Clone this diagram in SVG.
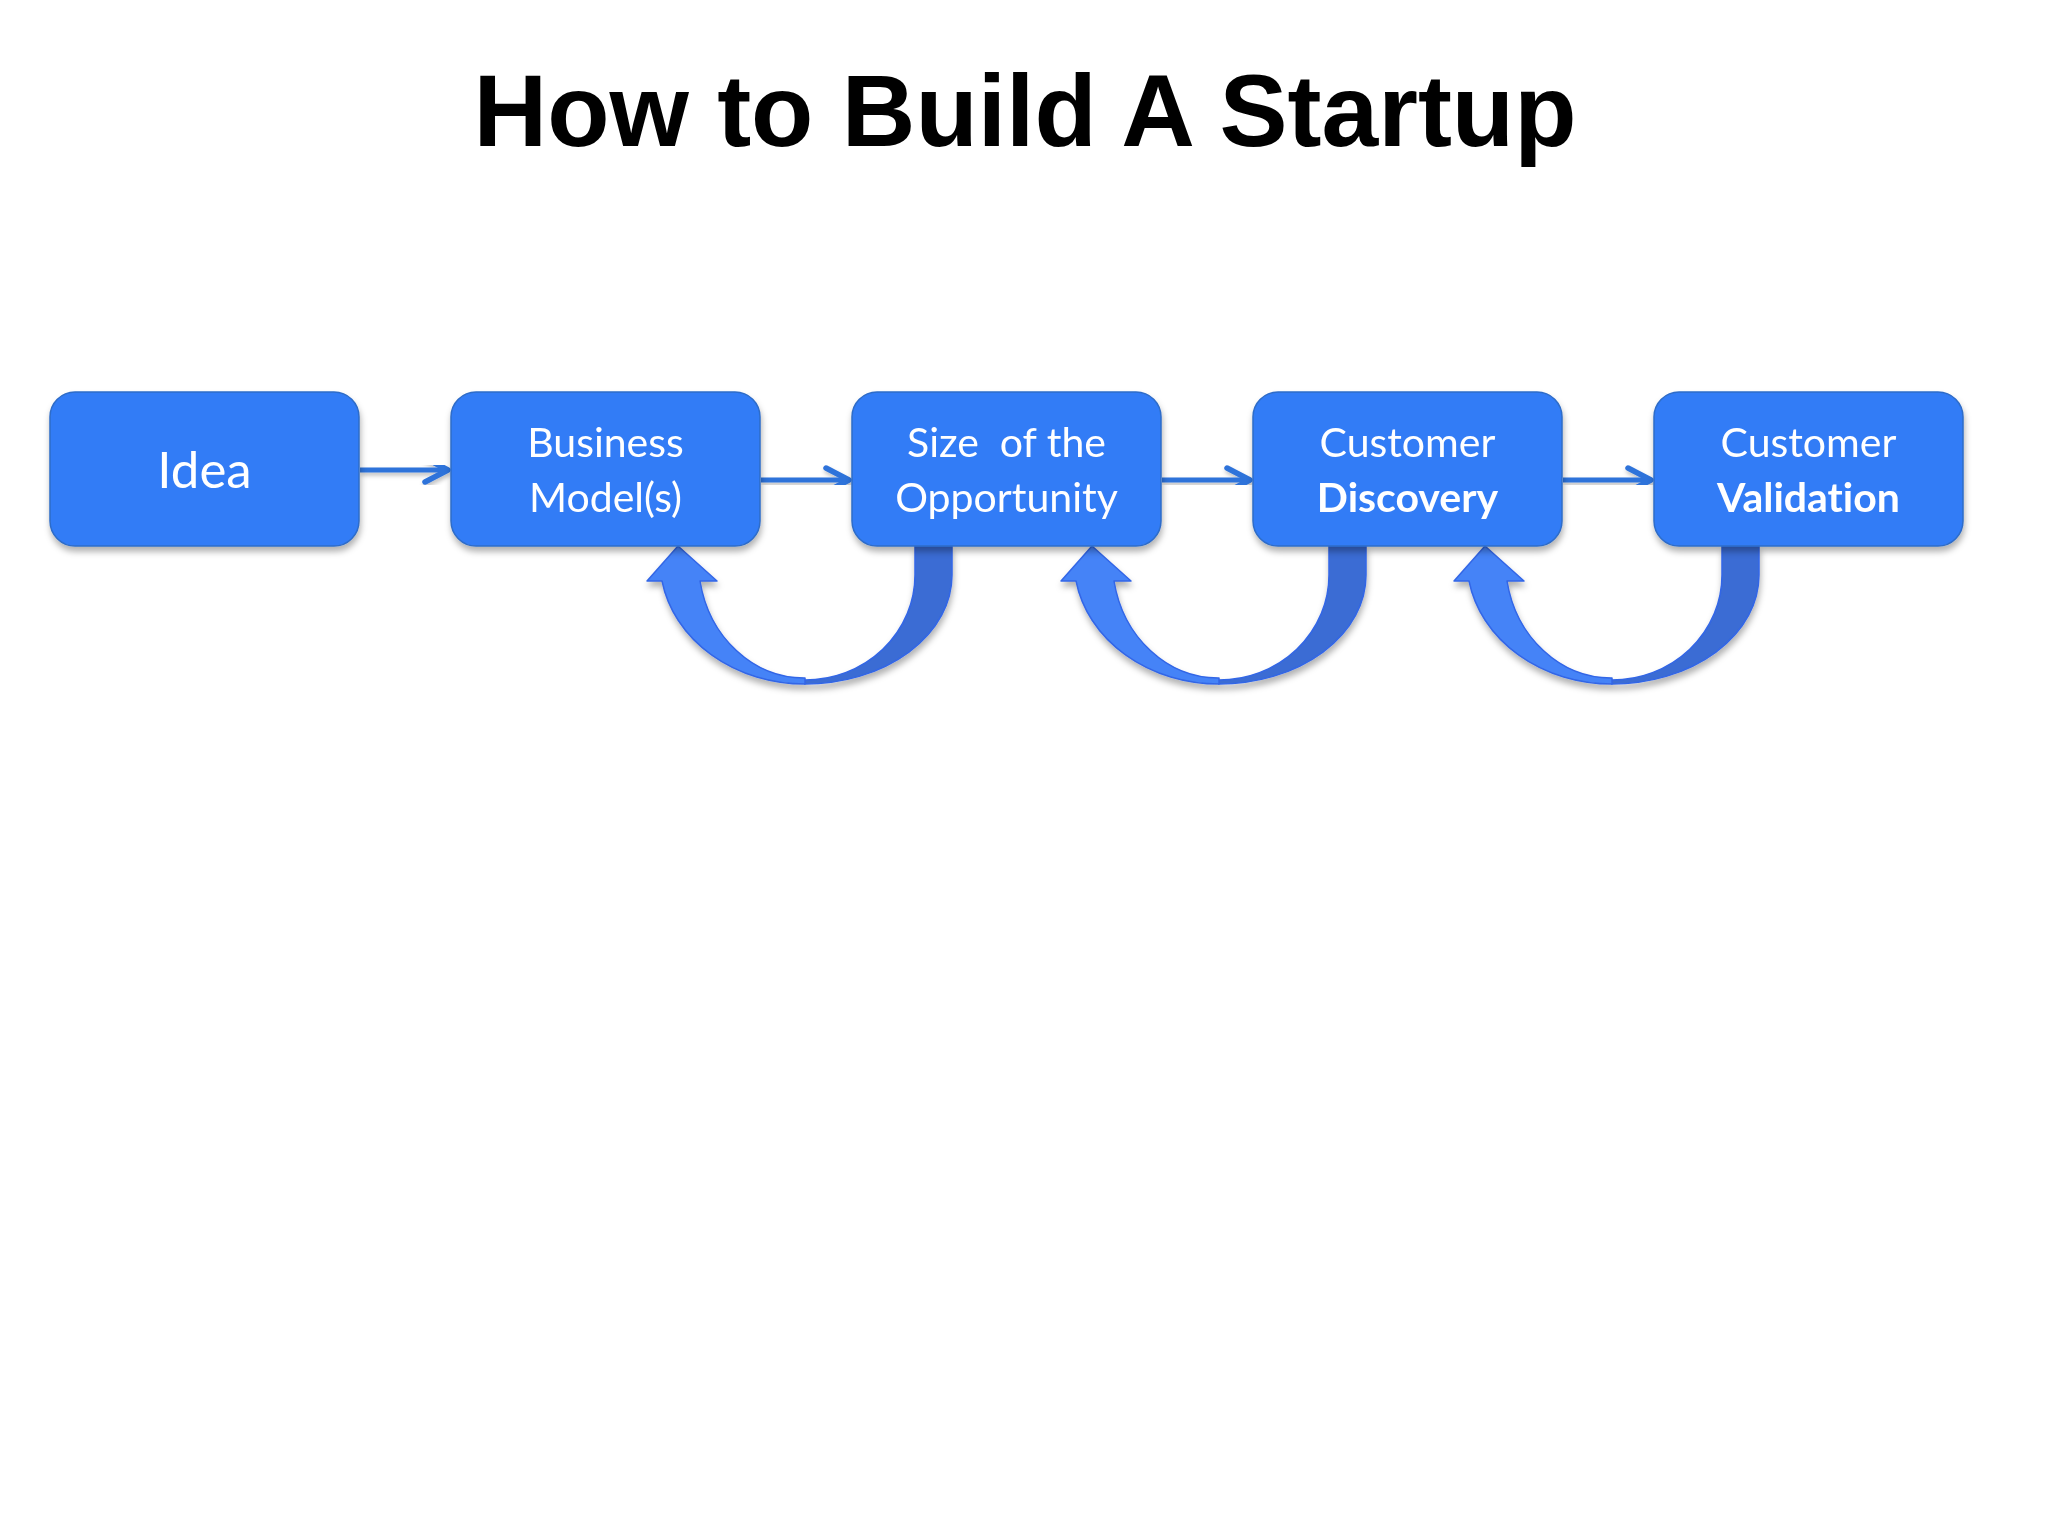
<svg xmlns="http://www.w3.org/2000/svg" width="2048" height="1536" viewBox="0 0 2048 1536">
  <defs>
    <style>
      .box { fill: #307CF6; stroke: #2E6CC8; stroke-width: 1.5; }
      .lbl { font-family: Lato, "Open Sans", sans-serif; font-size: 41px; fill: #FFFFFF; text-anchor: middle; font-variant-ligatures: none; }
      .big { font-size: 51px; }
      .b { font-weight: bold; }
      .title { font-family: "Liberation Sans", Arial, sans-serif; font-weight: bold; font-size: 102px; fill: #000000; text-anchor: middle; }
      .conn { stroke: #2E73DA; stroke-width: 5; fill: none; }
      .front { fill: #4583F7; stroke: #3366E6; stroke-width: 1.5; stroke-linejoin: round; }
      .back { fill: #3A6CD4; stroke: #3366E6; stroke-width: 1.5; }
    </style>
    <filter id="sh" x="-10%" y="-10%" width="120%" height="130%">
      <feDropShadow dx="1" dy="5" stdDeviation="3" flood-color="#000000" flood-opacity="0.3"/>
    </filter>
    <filter id="shs" x="-10%" y="-50%" width="120%" height="200%">
      <feDropShadow dx="1" dy="3" stdDeviation="2" flood-color="#000000" flood-opacity="0.25"/>
    </filter>
    <marker id="chev" viewBox="-28 -16 32 32" markerWidth="32" markerHeight="32" refX="0" refY="0" markerUnits="userSpaceOnUse" orient="auto">
      <path d="M -23 -12 L 0 0 L -23 12" fill="none" stroke="#2E73DA" stroke-width="5.5" stroke-linejoin="round" stroke-linecap="round"/>
    </marker>
    <g id="loop">
      <path class="back" d="M 952 546 L 952 575 A 147 109 0 0 1 805 684 L 805 680 A 110 105 0 0 0 915 575 L 915 546 Z"/>
      <path class="front" d="M 805 684 A 145 124 0 0 1 662 581 L 647 581 L 678 546 L 717 581 L 700 581 A 106 118 0 0 0 805 678 Z"/>
    </g>
  </defs>

  <rect width="2048" height="1536" fill="#FFFFFF"/>

  <text class="title" x="1025" y="146">How to Build A Startup</text>

  <g id="connectors">
    <g filter="url(#shs)">
      <line class="conn" x1="360" y1="470" x2="448" y2="470" marker-end="url(#chev)"/>
      <line class="conn" x1="761" y1="480" x2="849" y2="480" marker-end="url(#chev)"/>
      <line class="conn" x1="1162" y1="480" x2="1250" y2="480" marker-end="url(#chev)"/>
      <line class="conn" x1="1563" y1="480" x2="1651" y2="480" marker-end="url(#chev)"/>
    </g>
    <g filter="url(#sh)">
      <use href="#loop"/>
      <use href="#loop" transform="translate(414,0)"/>
      <use href="#loop" transform="translate(807,0)"/>
    </g>
  </g>

  <g id="node-idea">
    <rect class="box" x="50" y="392" width="309" height="154" rx="25" filter="url(#sh)"/>
    <text class="lbl big" x="204.5" y="488">Idea</text>
  </g>
  <g id="node-business-models">
    <rect class="box" x="451" y="392" width="309" height="154" rx="25" filter="url(#sh)"/>
    <text class="lbl" x="605.5" y="457">Business</text>
    <text class="lbl" x="605.5" y="512">Model(s)</text>
  </g>
  <g id="node-size-opportunity">
    <rect class="box" x="852" y="392" width="309" height="154" rx="25" filter="url(#sh)"/>
    <text class="lbl" x="1006.5" y="457" xml:space="preserve">Size  of the</text>
    <text class="lbl" x="1006.5" y="512">Opportunity</text>
  </g>
  <g id="node-customer-discovery">
    <rect class="box" x="1253" y="392" width="309" height="154" rx="25" filter="url(#sh)"/>
    <text class="lbl" x="1407.5" y="457">Customer</text>
    <text class="lbl b" x="1407.5" y="512">Discovery</text>
  </g>
  <g id="node-customer-validation">
    <rect class="box" x="1654" y="392" width="309" height="154" rx="25" filter="url(#sh)"/>
    <text class="lbl" x="1808.5" y="457">Customer</text>
    <text class="lbl b" x="1808.5" y="512">Validation</text>
  </g>
</svg>
